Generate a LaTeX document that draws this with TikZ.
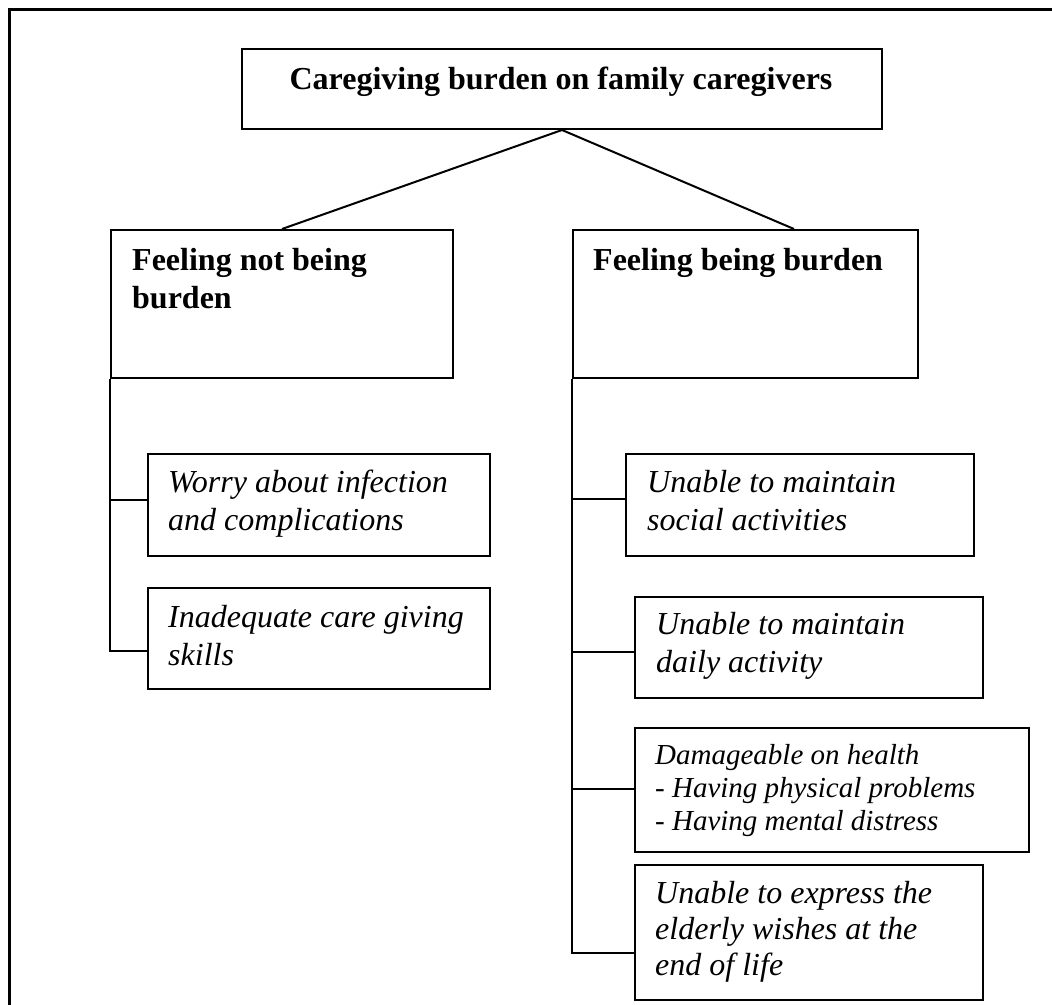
\documentclass[tikz,border=0pt]{standalone}
\usepackage{fontspec}
\setmainfont{Liberation Serif}
\begin{document}
\begin{tikzpicture}[x=1pt,y=-1pt,
  box/.style={draw, line width=2pt, rectangle, anchor=north west, inner sep=0pt},
  bt/.style={anchor=base west, inner sep=0pt, align=left, font=\fontsize{32}{38}\selectfont\bfseries},
  it/.style={anchor=base west, inner sep=0pt, align=left, font=\fontsize{32}{38}\selectfont\itshape},
  itx/.style={anchor=base west, inner sep=0pt, align=left, font=\fontsize{32}{36}\selectfont\itshape},
  its/.style={anchor=base west, inner sep=0pt, align=left, font=\fontsize{29}{33}\selectfont\itshape},
  link/.style={line width=2pt}]
\useasboundingbox (0,0) rectangle (1052,1004);
\begin{scope}
\clip (0,0) rectangle (1052,1004);
\draw[line width=3pt] (9,1030) -- (9,9) -- (1080,9);
\end{scope}
% boxes
\node[box, minimum width=640pt, minimum height=80pt] (top) at (241,48) {};
\node[box, minimum width=342pt, minimum height=148pt] (lb) at (110,229) {};
\node[box, minimum width=345pt, minimum height=148pt] (rb) at (572,229) {};
\node[box, minimum width=342pt, minimum height=102pt] (worry) at (147,453) {};
\node[box, minimum width=342pt, minimum height=101pt] (inad) at (147,587) {};
\node[box, minimum width=348pt, minimum height=102pt] (social) at (625,453) {};
\node[box, minimum width=348pt, minimum height=101pt] (daily) at (634,596) {};
\node[box, minimum width=394pt, minimum height=124pt] (damage) at (634,727) {};
\node[box, minimum width=348pt, minimum height=135pt] (express) at (634,864) {};
% texts (anchor = baseline of the last line)
\node[bt, anchor=base] (ttop) at (561,89) {Caregiving burden on family caregivers};
\node[bt] (tlb) at (132,308) {Feeling not being\\burden};
\node[bt] (trb) at (593,270) {Feeling being burden};
\node[it] (tworry) at (168,530) {Worry about infection\\and complications};
\node[it] (tinad) at (168,665) {Inadequate care giving\\skills};
\node[it] (tsocial) at (647,530) {Unable to maintain\\social activities};
\node[it] (tdaily) at (656,672) {Unable to maintain\\daily activity};
\node[its] (tdamage) at (655,830) {Damageable on health\\- Having physical problems\\- Having mental distress};
\node[itx] (texpress) at (655,975) {Unable to express the\\elderly wishes at the\\end of life};
% connectors
\draw[link] (top.south) -- (lb.north);
\draw[link] (top.south) -- ([xshift=48.5pt]rb.north);
\draw[link] (lb.south west) |- ([yshift=-47pt]worry.north west);
\draw[link] (lb.south west) |- ([yshift=-64pt]inad.north west);
\draw[link] (rb.south west) |- ([yshift=-46pt]social.north west);
\draw[link] (rb.south west) |- ([yshift=-56pt]daily.north west);
\draw[link] (rb.south west) |- ([yshift=-62pt]damage.north west);
\draw[link] (rb.south west) |- ([yshift=-89pt]express.north west);
\end{tikzpicture}
\end{document}
